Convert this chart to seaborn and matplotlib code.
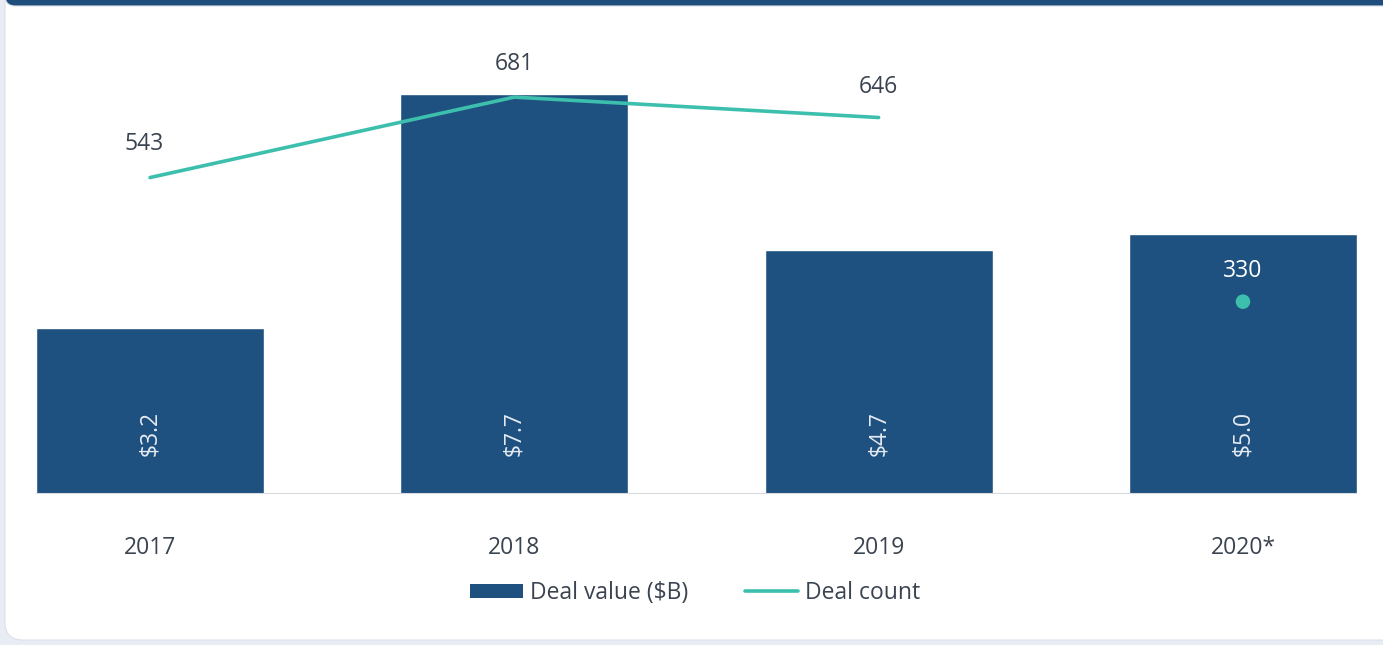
import matplotlib
matplotlib.use("Agg")
import matplotlib.pyplot as plt
from matplotlib.patches import FancyBboxPatch, Patch
from matplotlib.lines import Line2D
import seaborn as sns
import numpy as np

# data
years = ["2017", "2018", "2019", "2020*"]
deal_value = [3.2, 7.7, 4.7, 5.0]
deal_count = [543, 681, 646, 330]
n_full = 3  # 2020 is a partial year, shown as a lone dot

BAR = "#1f5180"
TEAL = "#3dbfad"
TXT = "#3a4350"
FS = 16.5

sns.set_theme(style="white")
plt.rcParams["font.family"] = ["Open Sans", "DejaVu Sans"]

W, H = 1383, 645
fig = plt.figure(figsize=(W / 100, H / 100), dpi=100)
fig.patch.set_facecolor("#e8ecf3")

# card + top band
def px_box(x0, y0, x1, y1, color, r, z):
    # pixel coords measured from top-left
    b = FancyBboxPatch((x0 / W, 1 - y1 / H), (x1 - x0) / W, (y1 - y0) / H,
                       boxstyle="round,pad=0,rounding_size=%f" % (r / W),
                       transform=fig.transFigure, facecolor=color,
                       edgecolor="#dde2ea", lw=0.8, zorder=z,
                       mutation_aspect=W / H)
    fig.patches.append(b)

px_box(5, -30, 1400, 640, "white", 18, -3)
px_box(5, -30, 1400, 6, "#1f4e7d", 10, -2)

ax = fig.add_axes([36 / W, 1 - 494 / H, (1357 - 36) / W, (494 - 40) / H])
pos = np.arange(len(years))

sns.barplot(x=pos, y=deal_value, color=BAR, width=0.626, saturation=1,
            native_scale=True, ax=ax, zorder=2)
ax.set_xlim(-0.313, 3.313)
ax.set_ylim(0, 8.74)
ax.patch.set_visible(False)
for s in ax.spines.values():
    s.set_visible(False)
ax.axhline(0, color="#d6d9de", lw=1.5, zorder=3)
ax.set_yticks([])
ax.set_xticks(pos)
ax.set_xticklabels(years, fontsize=FS, color=TXT)
ax.tick_params(axis="x", length=0, pad=30)

for i, v in enumerate(deal_value):
    ax.annotate(f"${v:.1f}", (i, 0), xytext=(0, 27), textcoords="offset points",
                rotation=90, ha="center", va="bottom", color="#e6ebf2",
                fontsize=FS)

ax2 = ax.twinx()
sns.lineplot(x=pos[:n_full], y=deal_count[:n_full], color=TEAL, lw=2.6,
             ax=ax2, zorder=4)
sns.scatterplot(x=pos[n_full:], y=deal_count[n_full:], color=TEAL, s=110,
                edgecolor="none", ax=ax2, zorder=4)
ax2.set_ylim(0, 779)
ax2.set_yticks([])
for s in ax2.spines.values():
    s.set_visible(False)

for i, c in enumerate(deal_count):
    inside = c + 60 < deal_value[i] * 89.2
    ax2.annotate(str(c), (i, c), xytext=(-4 if i == 0 else 0, 24 if i < 2 else 22),
                 textcoords="offset points", ha="center", va="center",
                 color="white" if inside else TXT, fontsize=FS)

handles = [Patch(facecolor=BAR, edgecolor="none"),
           Line2D([0], [0], color=TEAL, lw=2.6)]
fig.legend(handles, ["Deal value ($B)", "Deal count"], loc="center",
           bbox_to_anchor=(695 / W, 1 - 593 / H), ncol=2, frameon=False,
           fontsize=FS, handlelength=2.3, handleheight=0.55, handletextpad=0.3,
           columnspacing=2.5, labelcolor=TXT)

fig.savefig("out.png", dpi=100, facecolor=fig.get_facecolor())
